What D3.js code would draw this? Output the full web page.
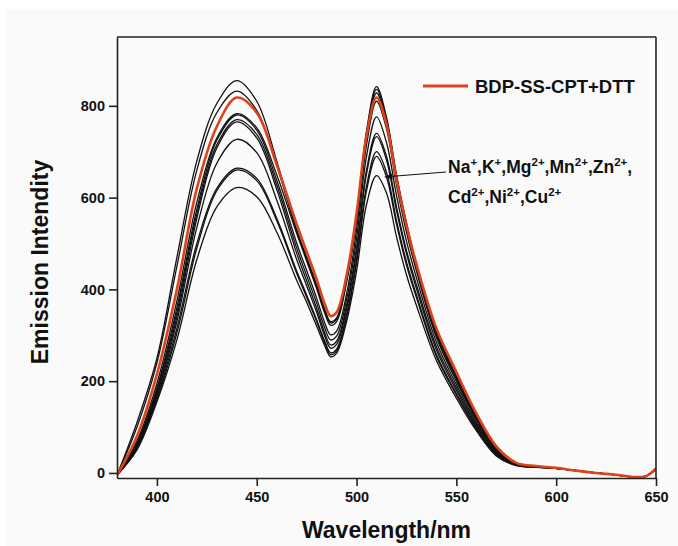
<!DOCTYPE html>
<html>
<head>
<meta charset="utf-8">
<script src="https://cdn.jsdelivr.net/npm/d3@7"></script>
<style>
    body { margin: 0; background: #ffffff; }
    svg text { font-family: "Liberation Sans", Arial, sans-serif; font-weight: bold; fill: #111; }
</style>
</head>
<body>
<div id="chart"></div>
<script>
// wavelength samples (nm)
const wavelengths = [380, 390, 400, 410, 420, 430, 440, 450, 460, 470, 475, 480, 484, 487, 490, 495, 500, 505, 510, 515, 520, 525, 530, 540, 550, 560, 570, 580, 590, 600, 610, 620, 630, 640, 645, 650];

// BDP-SS-CPT + DTT (red curve)
const dttSeries = [-5, 80, 215, 400, 620, 755, 818, 785, 672, 542, 482, 422, 369, 342, 350, 430, 565, 735, 818, 760, 640, 540, 455, 315, 220, 130, 58, 22, 15, 11, 5, 0, -4, -9, -7, 9];

// metal ion curves (black)
const ionSeries = [
    [-5, 110, 250, 470, 680, 805, 855, 810, 680, 530, 470, 410, 357, 330, 338, 425, 560, 745, 842, 775, 650, 545, 455, 310, 212, 124, 54, 20, 14, 10, 5, 0, -4, -9, -7, 9],
    [-5, 100, 240, 450, 660, 785, 832, 790, 670, 527, 467, 407, 354, 327, 335, 420, 555, 740, 836, 770, 645, 540, 450, 305, 208, 120, 52, 20, 14, 10, 5, 0, -4, -9, -7, 9],
    [-5, 70, 195, 375, 590, 730, 783, 752, 650, 522, 462, 402, 349, 322, 330, 415, 550, 730, 828, 765, 640, 535, 448, 300, 205, 118, 50, 19, 14, 10, 5, 0, -4, -9, -7, 9],
    [-5, 65, 185, 360, 575, 725, 780, 747, 638, 501, 441, 381, 328, 301, 309, 390, 530, 715, 810, 750, 628, 525, 440, 295, 200, 115, 48, 19, 14, 10, 5, 0, -4, -9, -7, 9],
    [-5, 62, 180, 350, 565, 715, 770, 738, 628, 490, 430, 370, 317, 290, 298, 378, 510, 690, 776, 720, 605, 505, 425, 285, 193, 110, 46, 18, 14, 10, 5, 0, -4, -9, -7, 9],
    [-5, 60, 175, 340, 555, 708, 765, 730, 618, 479, 419, 359, 306, 279, 287, 365, 490, 660, 740, 690, 580, 485, 410, 275, 186, 106, 44, 18, 13, 10, 5, 0, -4, -9, -7, 9],
    [-5, 58, 170, 330, 535, 675, 727, 698, 595, 465, 408, 350, 299, 272, 280, 357, 482, 652, 733, 682, 572, 478, 402, 268, 180, 102, 42, 17, 13, 10, 5, 0, -4, -9, -7, 9],
    [-5, 55, 165, 315, 500, 620, 664, 642, 555, 440, 388, 334, 288, 262, 270, 345, 465, 625, 700, 655, 550, 460, 388, 258, 173, 98, 40, 17, 13, 10, 5, 0, -4, -9, -7, 9],
    [-5, 54, 160, 305, 490, 615, 660, 637, 550, 435, 383, 330, 284, 258, 266, 340, 458, 615, 690, 645, 542, 453, 382, 254, 170, 96, 39, 17, 13, 10, 5, 0, -4, -9, -7, 9],
    [-5, 50, 155, 290, 465, 580, 622, 602, 525, 420, 372, 320, 278, 253, 261, 330, 440, 585, 648, 610, 515, 432, 365, 245, 163, 92, 37, 16, 12, 10, 5, 0, -4, -9, -7, 9]
];

const xTicks = [400, 450, 500, 550, 600, 650];
const yTicks = [0, 200, 400, 600, 800];
const legendLabel = "BDP-SS-CPT+DTT";
// [symbol, charge] per annotation line
const ionLines = [
    [["Na", "+"], ["K", "+"], ["Mg", "2+"], ["Mn", "2+"], ["Zn", "2+"]],
    [["Cd", "2+"], ["Ni", "2+"], ["Cu", "2+"]]
];

const width = 678, height = 546;
const red = "#dc431d";

let svg = d3.select("#chart").append("svg").attr("width", width).attr("height", height);
svg.append("rect").attr("x", 7).attr("y", 9).attr("width", width - 7).attr("height", height - 9).attr("fill", "#fafafa");

let x = d3.scaleLinear().domain([380, 650]).range([117, 656]);
let y = d3.scaleLinear().domain([-11, 950]).range([478, 37]);

svg.append("defs").append("clipPath").attr("id", "plot-clip")
    .append("rect").attr("x", 117).attr("y", 37).attr("width", 539).attr("height", 441);

let line = d3.line()
    .x((d, i) => x(wavelengths[i]))
    .y(d => y(d))
    .curve(d3.curveCatmullRom.alpha(0.5));

let curves = svg.append("g").attr("clip-path", "url(#plot-clip)");
curves.selectAll(".ion").data(ionSeries).join("path")
    .attr("class", "ion")
    .attr("d", line)
    .attr("fill", "none")
    .attr("stroke", "#111")
    .attr("stroke-width", 1.3);
curves.append("path")
    .attr("d", line(dttSeries))
    .attr("fill", "none")
    .attr("stroke", red)
    .attr("stroke-width", 2.6);

// axes
let xAxis = svg.append("g").attr("transform", "translate(0,478)")
    .call(d3.axisBottom(x).tickValues(xTicks).tickSize(8).tickSizeOuter(0).tickPadding(6));
let yAxis = svg.append("g").attr("transform", "translate(117,0)")
    .call(d3.axisLeft(y).tickValues(yTicks).tickSize(8).tickSizeOuter(0).tickPadding(4));
[xAxis, yAxis].forEach(a => {
    a.selectAll("path, line").attr("stroke", "#222").attr("stroke-width", 1.6);
    a.selectAll("text").attr("font-size", "14.5px").attr("fill", "#111").style("font-family", "'Liberation Sans', Arial, sans-serif");
});
svg.append("line").attr("x1", 117).attr("x2", 656).attr("y1", 37).attr("y2", 37).attr("stroke", "#222").attr("stroke-width", 1.6);
svg.append("line").attr("x1", 656).attr("x2", 656).attr("y1", 37).attr("y2", 478).attr("stroke", "#222").attr("stroke-width", 1.6);

// axis titles
svg.append("text").attr("x", 386.5).attr("y", 538).attr("text-anchor", "middle")
    .attr("font-size", "23px").text("Wavelength/nm");
svg.append("text").attr("transform", "translate(48,262) rotate(-90)").attr("text-anchor", "middle")
    .attr("font-size", "23px").text("Emission Intendity");

// legend
svg.append("line").attr("x1", 423).attr("x2", 468).attr("y1", 86).attr("y2", 86)
    .attr("stroke", red).attr("stroke-width", 3);
svg.append("text").attr("x", 475).attr("y", 92.5).attr("font-size", "18.5px").text(legendLabel);

// ion annotation
let note = svg.append("g");
ionLines.forEach((ions, li) => {
    let t = note.append("text").attr("x", 448).attr("y", 173 + li * 30).attr("font-size", "17.5px");
    ions.forEach((ion, k) => {
        t.append("tspan").text(ion[0]);
        t.append("tspan").attr("font-size", "11.5px").attr("dy", -7.5).text(ion[1]);
        let last = k == ions.length - 1 && li == ionLines.length - 1;
        t.append("tspan").attr("dy", 7.5).text(last ? "" : ",");
    });
});
note.append("line").attr("x1", 446).attr("y1", 172).attr("x2", 390).attr("y2", 176.5)
    .attr("stroke", "#111").attr("stroke-width", 1);
note.append("path").attr("d", "M384,177 L392,173.5 L392.6,179.5 Z").attr("fill", "#111");
</script>
</body>
</html>
